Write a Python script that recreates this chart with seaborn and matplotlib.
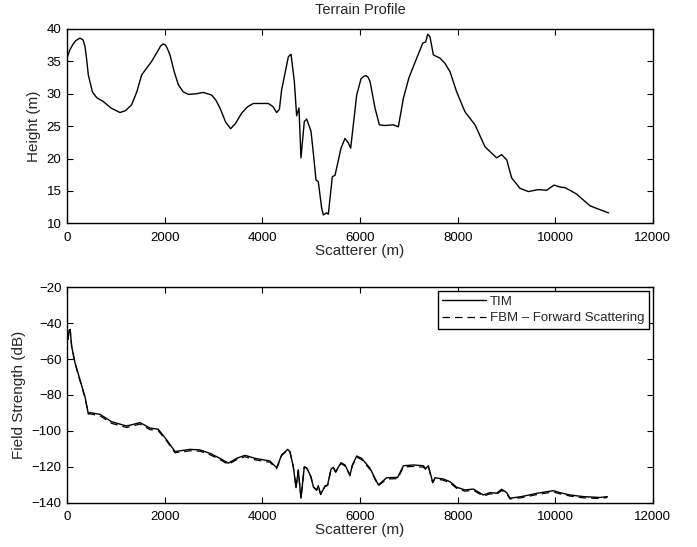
import pandas as pd
import matplotlib
matplotlib.use("Agg")
import matplotlib.pyplot as plt
import seaborn as sns

# Terrain profile (top)
terrain_x = [0, 60, 120, 180, 266, 330, 369, 400, 437, 520, 608, 744, 900, 1085, 1200, 1324,
             1430, 1529, 1734, 1860, 1920, 1973, 2020, 2060, 2109, 2200, 2280, 2380, 2485, 2650,
             2792, 2963, 3050, 3133, 3250, 3352, 3450, 3577, 3700, 3816, 3953, 4123, 4220, 4294,
             4350, 4396, 4533, 4588, 4656, 4703, 4751, 4792, 4860, 4909, 4997, 5050, 5099, 5147,
             5216, 5250, 5318, 5352, 5434, 5489, 5612, 5693, 5762, 5810, 5933, 6021, 6080, 6124,
             6170, 6206, 6308, 6397, 6513, 6684, 6786, 6889, 7004, 7162, 7285, 7346, 7387, 7434,
             7503, 7639, 7741, 7844, 7980, 8151, 8356, 8561, 8800, 8902, 9005, 9107, 9277, 9448,
             9653, 9824, 9974, 10097, 10199, 10301, 10438, 10574, 10711, 10916, 11093]
terrain_h = [35.5, 36.8, 37.6, 38.2, 38.6, 38.3, 37.3, 35.5, 32.9, 30.3, 29.4, 28.8, 27.8, 27.1,
             27.4, 28.3, 30.3, 32.9, 35.0, 36.6, 37.4, 37.7, 37.5, 36.9, 36.0, 33.3, 31.4, 30.3,
             29.9, 30.0, 30.2, 29.8, 29.0, 27.8, 25.6, 24.6, 25.4, 27.0, 28.0, 28.5, 28.5, 28.5,
             28.0, 27.1, 27.6, 30.6, 35.7, 36.1, 31.9, 26.6, 27.8, 20.1, 25.7, 26.1, 24.2, 20.5,
             16.7, 16.4, 12.3, 11.3, 11.6, 11.4, 17.2, 17.4, 21.6, 23.1, 22.4, 21.6, 29.8, 32.3,
             32.7, 32.8, 32.5, 31.9, 27.8, 25.2, 25.1, 25.2, 24.9, 29.3, 32.5, 35.5, 37.8, 38.0,
             39.2, 38.8, 36.0, 35.5, 34.7, 33.4, 30.3, 27.2, 25.2, 21.8, 20.1, 20.6, 19.8, 17.0,
             15.4, 14.9, 15.2, 15.1, 15.9, 15.6, 15.5, 15.1, 14.5, 13.6, 12.7, 12.1, 11.6]

# Field strength (bottom)
field_x = [0, 20, 45, 65, 96, 164, 266, 369, 437, 471, 676, 915, 1222, 1495, 1700, 1870, 2041,
           2212, 2519, 2724, 2929, 3133, 3304, 3475, 3645, 3850, 4157, 4294, 4396, 4519, 4567,
           4635, 4690, 4737, 4792, 4860, 4909, 4997, 5045, 5113, 5147, 5195, 5284, 5338, 5406,
           5454, 5503, 5612, 5693, 5796, 5844, 5933, 6035, 6206, 6376, 6547, 6772, 6889, 7092,
           7297, 7346, 7400, 7489, 7537, 7708, 7844, 7980, 8151, 8321, 8526, 8663, 8800, 8902,
           9005, 9072, 9312, 9619, 9960, 10097, 10301, 10574, 10916, 11066]
tim_db = [-47, -49, -44, -43.5, -53, -62, -71.5, -81, -90.5, -89.8, -90.8, -94.9, -97.3, -95.4,
          -98.4, -99.1, -105, -111.5, -110.3, -110.6, -112.5, -115.3, -118, -115.3, -113.6,
          -115.3, -116.8, -120.5, -113.4, -110.3, -111.6, -120, -131.6, -121.8, -137.5, -120,
          -120.6, -125.5, -131.1, -132.9, -130.5, -135.3, -130.7, -130, -121.4, -120.3, -122.7,
          -117.7, -119, -124.6, -119, -114, -115.3, -120.8, -130.1, -126.1, -125.9, -119.4, -119,
          -119.4, -121, -119.4, -128.6, -126.1, -126.8, -128.3, -131.4, -132.9, -132.4, -135.7,
          -134.4, -134.7, -132.5, -134.4, -137.5, -136.6, -134.8, -133.3, -134.4, -135.7, -136.6,
          -137.1, -136.6]
fbm_db = [-47, -49, -44, -43.5, -53, -62.3, -72, -81.5, -90.5, -90.5, -91.6, -95.8, -98.1, -96.2,
          -99.3, -99.9, -105.6, -112.2, -111.1, -111.3, -113.3, -116, -118.7, -116, -114.4,
          -116.1, -117.5, -121, -113.8, -110.5, -111.8, -120, -131.6, -121.8, -137.5, -120,
          -120.8, -125.8, -131.3, -133.2, -130.8, -135.5, -131, -130.4, -121.8, -120.7, -123.1,
          -118.2, -119.5, -125, -119.4, -114.6, -116, -121.5, -130.6, -126.8, -126.6, -120.1,
          -119.8, -120.2, -121.4, -119.9, -128.9, -126.6, -127.5, -129, -132, -133.6, -133.1,
          -136.3, -135.1, -135.3, -133.2, -135, -137.9, -137.2, -135.5, -134, -135.1, -136.3,
          -137.3, -137.7, -137.1]

terrain = pd.DataFrame({"x": terrain_x, "h": terrain_h})
field = pd.DataFrame({"x": field_x, "TIM": tim_db, "FBM": fbm_db})

sns.set_style("ticks")
plt.rcParams["font.family"] = ["Liberation Sans", "DejaVu Sans"]
plt.rcParams["xtick.direction"] = "in"
plt.rcParams["ytick.direction"] = "in"

fig = plt.figure(figsize=(6.97, 5.47), dpi=100)
ax1 = fig.add_axes([0.0961, 0.5918, 0.8407, 0.3552])
ax2 = fig.add_axes([0.0961, 0.0810, 0.8407, 0.3938])

sns.lineplot(data=terrain, x="x", y="h", ax=ax1, color="black", linewidth=1.0,
             estimator=None, sort=False)
ax1.set_xlim(0, 12000)
ax1.set_ylim(10, 40)
ax1.set_title("Terrain Profile", fontsize=10.5, pad=11)
ax1.set_xlabel("Scatterer (m)", fontsize=11, labelpad=0)
ax1.set_ylabel("Height (m)", fontsize=11, labelpad=4)

sns.lineplot(data=field, x="x", y="TIM", ax=ax2, color="black", linewidth=1.0,
             estimator=None, sort=False, label="TIM")
sns.lineplot(data=field, x="x", y="FBM", ax=ax2, color="black", linewidth=0.9,
             linestyle=(0, (6, 4)), estimator=None, sort=False,
             label="FBM \u2013 Forward Scattering")
ax2.set_xlim(0, 12000)
ax2.set_ylim(-140, -20)
ax2.set_xlabel("Scatterer (m)", fontsize=11, labelpad=0)
ax2.set_ylabel("Field Strength (dB)", fontsize=11, labelpad=4)
leg = ax2.legend(loc="upper right", fontsize=9.5, frameon=True, fancybox=False,
                 edgecolor="black", framealpha=1, handlelength=3.3, borderpad=0.35,
                 labelspacing=0.3, borderaxespad=0.3, handletextpad=0.3)
leg.get_frame().set_linewidth(1.0)

for ax in (ax1, ax2):
    ax.tick_params(axis="both", labelsize=9.5, length=4, width=0.8, pad=4,
                   top=True, right=True, direction="in", colors="black")
    ax.tick_params(axis="x", pad=6)
    for s in ax.spines.values():
        s.set_visible(True)
        s.set_linewidth(1.0)
        s.set_color("black")

fig.savefig("out.png", dpi=100)
